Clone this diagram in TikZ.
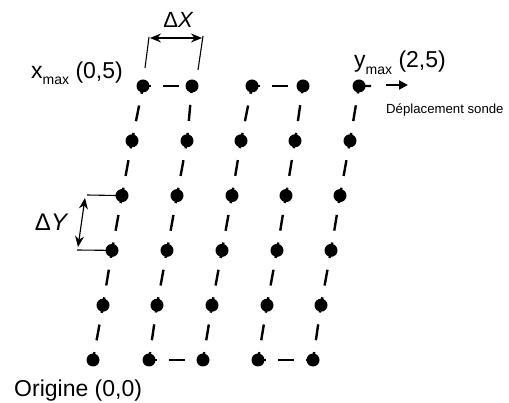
\documentclass[tikz,border=0pt]{standalone}
\usepackage{fontspec}
\setmainfont{Liberation Sans}
\usetikzlibrary{arrows.meta}

\begin{document}
\begin{tikzpicture}[
  x=1pt, y=-1pt,
  pnt/.style={circle,fill=black,inner sep=0pt,minimum size=13pt},
  trk/.style={line width=2.4pt,dash pattern=on 16pt off 12pt,dash phase=8pt},
  lbl/.style={inner sep=0pt,anchor=base west,font=\fontsize{23}{26}\selectfont},
  dim/.style={line width=1.2pt,{Stealth[length=11pt,width=9pt]}-{Stealth[length=11pt,width=9pt]}},
  tck/.style={line width=1.1pt},
]

\useasboundingbox (0,0) rectangle (509,403);

\foreach \c/\xs in {1/{93,103,112,122,132,143},2/{149,157,167,177,187,192},
    3/{203,212,222,232,241,252},4/{258,267,277,286,295,303},5/{313,321,331,340,350,359}}
  \foreach \x [count=\r from 0] in \xs
    \node [pnt] (d\c\r) at (\x,360-54.8*\r) {};

\foreach \c in {1,...,5}
  \foreach \r in {0,...,4} {
    \pgfmathtruncatemacro\s{\r+1}
    \draw [trk] (d\c\r.center) -- (d\c\s.center);
  }
\foreach \a/\b in {d15/d25,d35/d45,d20/d30,d40/d50}
  \draw [trk] (\a.center) -- (\b.center);

\coordinate (stub) at (371,86);
\draw [line width=2.4pt] (d55.center) -- (stub);
\coordinate (go0) at (386,85);
\coordinate (go1) at (408,85);
\draw [line width=2pt,-{Triangle[length=9pt,width=9pt]}] (go0) -- (go1);

\node [lbl] (orig) at (14,397) {Origine (0,0)};
\node [lbl] (xmax) at (31,79) {x\raisebox{-6pt}{\fontsize{14}{14}\selectfont max} (0,5)};
\node [lbl] (ymax) at (354,68) {y\raisebox{-7pt}{\fontsize{14}{14}\selectfont max} (2,5)};
\node [lbl,font=\fontsize{13.2}{16}\selectfont] (sonde) at (386,114) {Déplacement sonde};
\node [inner sep=0pt,font=\fontsize{22}{24}\selectfont\itshape] (dx) at (178,20) {{\upshape Δ}X};
\node [inner sep=0pt,font=\fontsize{24}{26}\selectfont\itshape] (dy) at (51,222) {{\upshape Δ}Y};

\coordinate (tx1a) at (145,68);
\coordinate (tx1b) at (149,37);
\coordinate (tx2a) at (198,70);
\coordinate (tx2b) at (203,36);
\draw [tck] (tx1a) -- (tx1b);
\draw [tck] (tx2a) -- (tx2b);
\coordinate (ax1) at (150,38);
\coordinate (ax2) at (202,38);
\draw [dim] (ax1) -- (ax2);

\coordinate (ty1) at (87,195);
\coordinate (ty2) at (77,250);
\draw [tck] (ty1) -- (d13.center);
\draw [tck] (ty2) -- (d12.center);
\coordinate (ay1) at (85,198);
\coordinate (ay2) at (78,247);
\draw [dim] (ay1) -- (ay2);

\end{tikzpicture}
\end{document}
